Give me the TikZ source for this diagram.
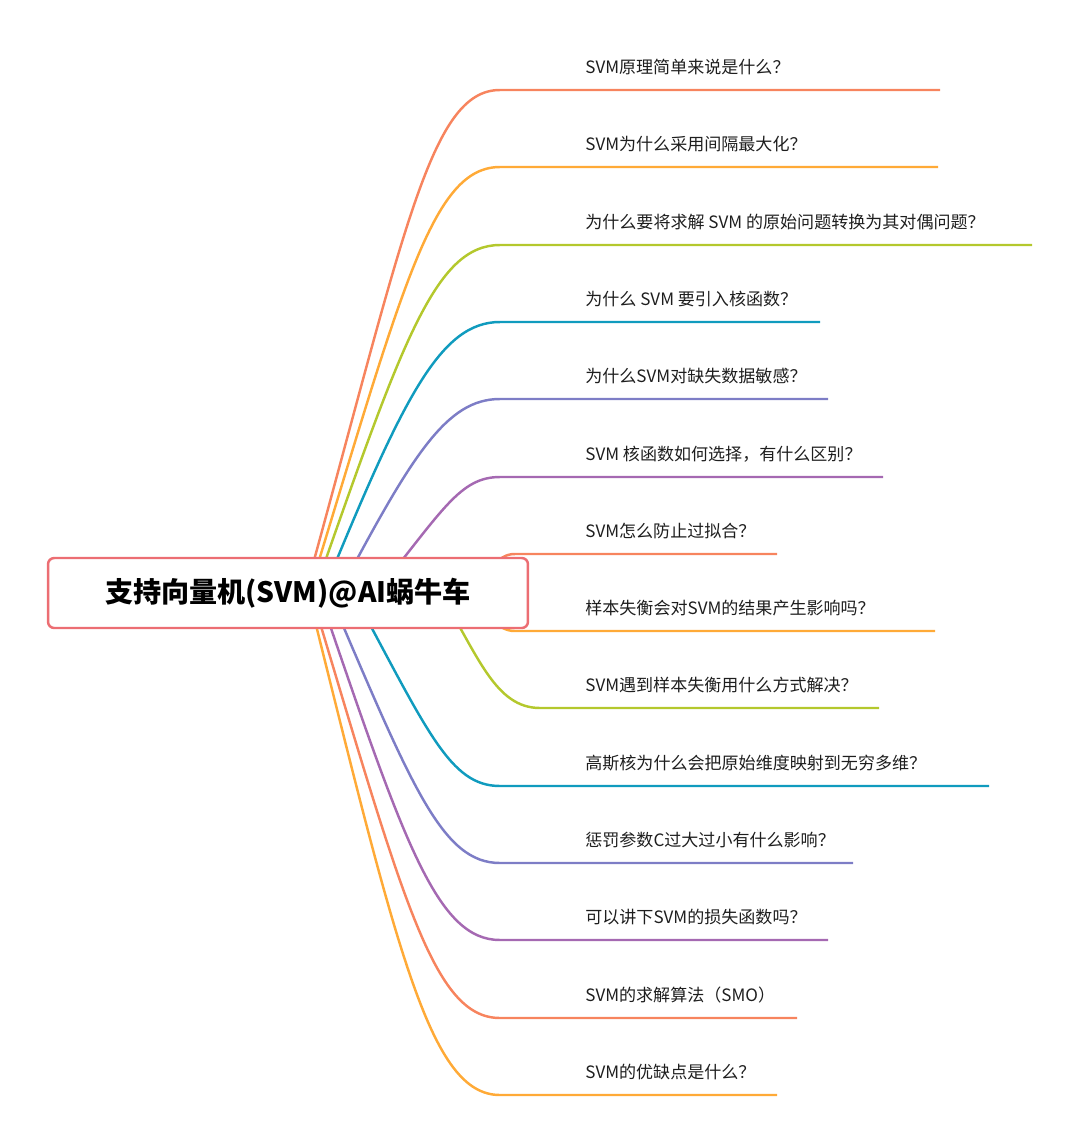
\documentclass[tikz,border=0pt]{standalone}
\usepackage{fontspec}
\setmainfont{Noto Sans CJK SC}
\usetikzlibrary{positioning}
\definecolor{cRoot}{RGB}{236,110,115}
\definecolor{cCoral}{RGB}{247,132,94}
\definecolor{cOrange}{RGB}{255,170,55}
\definecolor{cGreen}{RGB}{180,200,45}
\definecolor{cTeal}{RGB}{16,155,190}
\definecolor{cIndigo}{RGB}{125,125,198}
\definecolor{cPurple}{RGB}{165,105,178}
\definecolor{cText}{RGB}{30,30,30}

\begin{document}
\begin{tikzpicture}[
  x=0.02cm, y=-0.02cm,
  root/.style={draw=cRoot, line width=1.4pt, fill=white, rounded corners=3.5pt, minimum width=9.6cm, minimum height=1.4cm, font=\fontsize{16}{20}\selectfont\bfseries},
  topic/.style={anchor=west, inner sep=0pt, text=cText, font=\fontsize{9.7}{12}\selectfont},
  br/.style={line width=1.4pt}
]
\useasboundingbox (0,0) rectangle (1080,1144);

\coordinate (s1) at (305,593);  \coordinate (e1) at (940,90);
\coordinate (s2) at (309,593);  \coordinate (e2) at (938,167);
\coordinate (s3) at (314,593);  \coordinate (e3) at (1032,245);
\coordinate (s4) at (323,593);  \coordinate (e4) at (820,322);
\coordinate (s5) at (339,593);  \coordinate (e5) at (828,399);
\coordinate (s6) at (376,593);  \coordinate (e6) at (883,477);
\coordinate (s7) at (470,590);  \coordinate (e7) at (777,554);
\coordinate (s8) at (470,596);  \coordinate (e8) at (935,631);
\coordinate (s9) at (440,593);  \coordinate (e9) at (879,708);
\coordinate (s10) at (353,593); \coordinate (e10) at (989,786);
\coordinate (s11) at (329,593); \coordinate (e11) at (853,863);
\coordinate (s12) at (319,593); \coordinate (e12) at (828,940);
\coordinate (s13) at (311,593); \coordinate (e13) at (797,1018);
\coordinate (s14) at (308,593); \coordinate (e14) at (777,1095);

\draw[br, cCoral] (s1) .. controls (405,231) and (430,90) .. (500,90) -- (e1);
\draw[br, cOrange] (s2) .. controls (403,286) and (432,167) .. (500,167) -- (e2);
\draw[br, cGreen] (s3) .. controls (402,342) and (435,245) .. (500,245) -- (e3);
\draw[br, cTeal] (s4) .. controls (403,398) and (440,322) .. (500,322) -- (e4);
\draw[br, cIndigo] (s5) .. controls (413,453) and (447,399) .. (500,399) -- (e5);
\draw[br, cPurple] (s6) .. controls (443,510) and (460,477) .. (500,477) -- (e6);
\draw[br, cCoral] (s7) .. controls (492,572) and (496,554) .. (515,554) -- (e7);
\draw[br, cOrange] (s8) .. controls (492,614) and (496,631) .. (515,631) -- (e8);
\draw[br, cGreen] (s9) .. controls (478,655) and (495,708) .. (540,708) -- (e9);
\draw[br, cTeal] (s10) .. controls (428,732) and (450,786) .. (500,786) -- (e10);
\draw[br, cIndigo] (s11) .. controls (412,787) and (442,863) .. (500,863) -- (e11);
\draw[br, cPurple] (s12) .. controls (404,843) and (437,940) .. (500,940) -- (e12);
\draw[br, cCoral] (s13) .. controls (403,899) and (433,1018) .. (500,1018) -- (e13);
\draw[br, cOrange] (s14) .. controls (398,954) and (430,1095) .. (500,1095) -- (e14);

\node[root] (svm) at (288,593) {支持向量机(SVM)@AI蜗牛车};

\node[topic] (q1) at (585,67) {SVM原理简单来说是什么？};
\node[topic] (q2) at (585,144) {SVM为什么采用间隔最大化？};
\node[topic] (q3) at (585,222) {为什么要将求解 SVM 的原始问题转换为其对偶问题？};
\node[topic] (q4) at (585,299) {为什么 SVM 要引入核函数？};
\node[topic] (q5) at (585,376) {为什么SVM对缺失数据敏感？};
\node[topic] (q6) at (585,454) {SVM 核函数如何选择，有什么区别？};
\node[topic] (q7) at (585,531) {SVM怎么防止过拟合？};
\node[topic] (q8) at (585,608) {样本失衡会对SVM的结果产生影响吗？};
\node[topic] (q9) at (585,685) {SVM遇到样本失衡用什么方式解决？};
\node[topic] (q10) at (585,763) {高斯核为什么会把原始维度映射到无穷多维？};
\node[topic] (q11) at (585,840) {惩罚参数C过大过小有什么影响？};
\node[topic] (q12) at (585,917) {可以讲下SVM的损失函数吗？};
\node[topic] (q13) at (585,995) {SVM的求解算法（SMO）};
\node[topic] (q14) at (585,1072) {SVM的优缺点是什么？};

\end{tikzpicture}
\end{document}
